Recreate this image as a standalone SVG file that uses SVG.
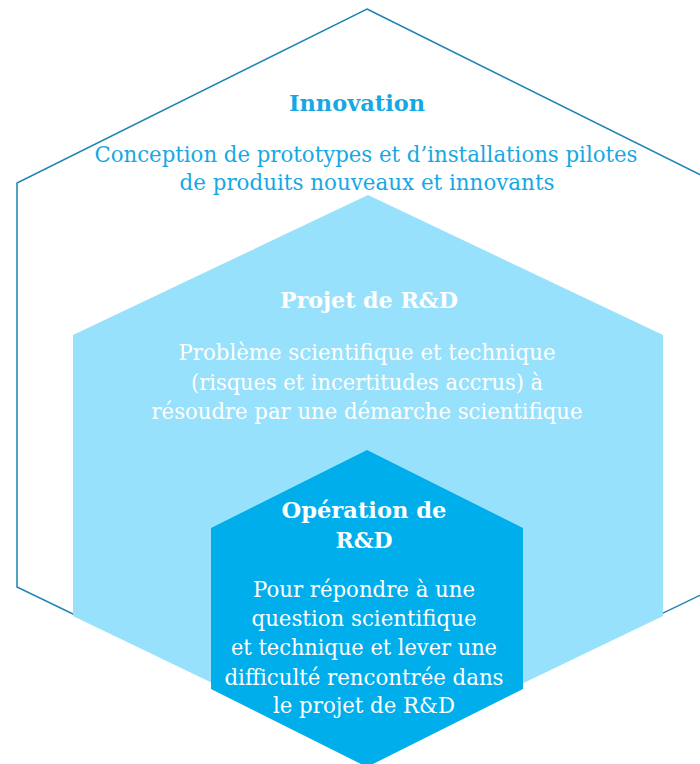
<svg xmlns="http://www.w3.org/2000/svg" width="700" height="764" viewBox="0 0 700 764">
<style>
text{font-family:"DejaVu Serif","Liberation Serif",serif;text-anchor:middle}
.t{font-size:23px;font-weight:bold}
.b{font-size:22px}
.cy{fill:#17a8e3}
.w{fill:#ffffff}
</style>
<rect width="700" height="764" fill="#ffffff"/>
<g id="innovation">
<polygon points="367,9 717,183 717,587 367,756 17,587 17,183" fill="none" stroke="#1f84b3" stroke-width="1.5"/>
<text class="t cy" x="357" y="111" textLength="136" lengthAdjust="spacingAndGlyphs">Innovation</text>
<text class="b cy" x="366" y="162" textLength="543" lengthAdjust="spacingAndGlyphs">Conception de prototypes et d’installations pilotes</text>
<text class="b cy" x="367" y="190" textLength="375" lengthAdjust="spacingAndGlyphs">de produits nouveaux et innovants</text>
</g>
<g id="projet">
<polygon points="368,195 663,335 663,616 368,758 73,616 73,335" fill="#97e1fc"/>
<text class="t w" x="369" y="308" textLength="178" lengthAdjust="spacingAndGlyphs">Projet de R&amp;D</text>
<text class="b w" x="367" y="360" textLength="377" lengthAdjust="spacingAndGlyphs">Problème scientifique et technique</text>
<text class="b w" x="367" y="390" textLength="352" lengthAdjust="spacingAndGlyphs">(risques et incertitudes accrus) à</text>
<text class="b w" x="367" y="419" textLength="431" lengthAdjust="spacingAndGlyphs">résoudre par une démarche scientifique</text>
</g>
<g id="operation">
<polygon points="367,450 523,528 523,689 367,767 211,689 211,528" fill="#00aeec"/>
<text class="t w" x="364" y="518" textLength="165" lengthAdjust="spacingAndGlyphs">Opération de</text>
<text class="t w" x="364" y="548" textLength="57" lengthAdjust="spacingAndGlyphs">R&amp;D</text>
<text class="b w" x="364" y="597" textLength="222" lengthAdjust="spacingAndGlyphs">Pour répondre à une</text>
<text class="b w" x="364" y="626" textLength="225" lengthAdjust="spacingAndGlyphs">question scientifique</text>
<text class="b w" x="364" y="655" textLength="266" lengthAdjust="spacingAndGlyphs">et technique et lever une</text>
<text class="b w" x="364" y="685" textLength="279" lengthAdjust="spacingAndGlyphs">difficulté rencontrée dans</text>
<text class="b w" x="364" y="713" textLength="182" lengthAdjust="spacingAndGlyphs">le projet de R&amp;D</text>
</g>
<g id="connectors"/>
</svg>
